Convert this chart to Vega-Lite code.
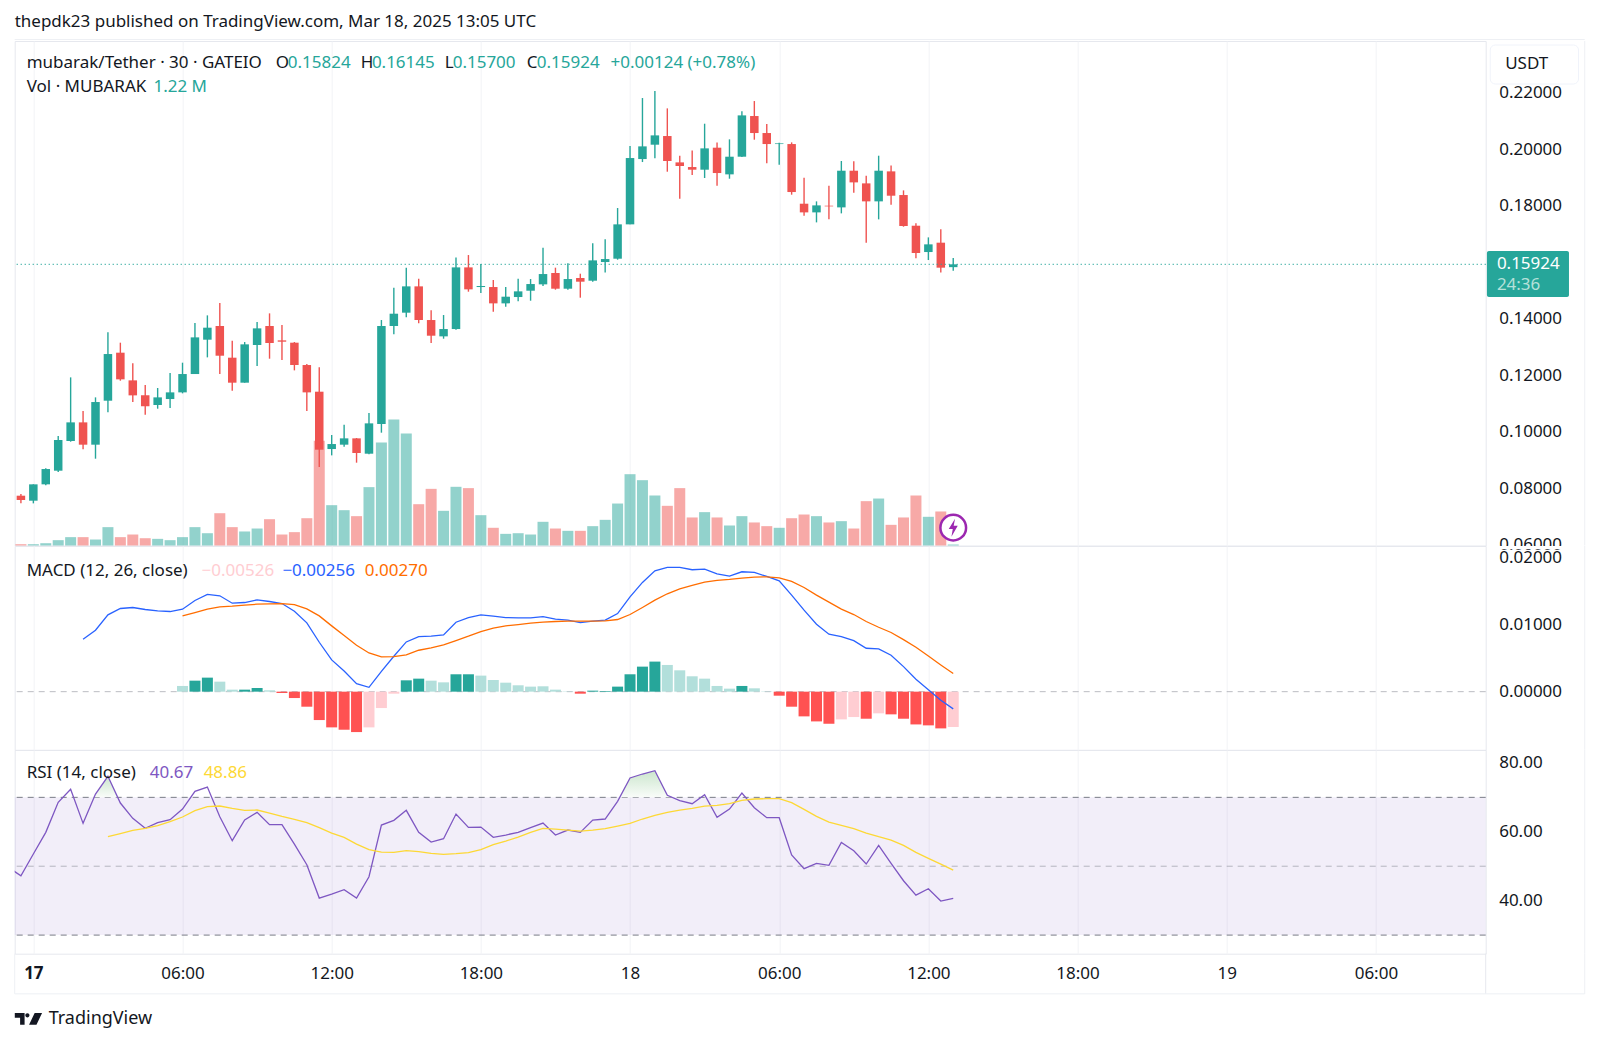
{
  "$schema": "https://vega.github.io/schema/vega-lite/v6.json",
  "background": "#ffffff",
  "padding": {"left": 12.7, "top": 12, "right": 0, "bottom": 0},
  "bounds": "flush",
  "spacing": 0,
  "data": {"values": [{}]},
  "config": {
    "view": {"stroke": "#e6e8ee"},
    "axis": {"gridColor": "#f2f3f6", "domain": false, "ticks": false, "labelFont": "Noto Sans", "labelFontSize": 17, "labelColor": "#131722", "labelPadding": 13},
    "text": {"font": "Noto Sans", "fontSize": 17, "align": "left", "baseline": "middle", "color": "#131722"}
  },
  "datasets": {
    "bars": [
      {"t":"2025-03-16T23:00:00Z","rsi":49.66},
      {"t":"2025-03-16T23:30:00Z","o":0.07733,"h":0.07792,"l":0.07462,"c":0.0758,"vol":1.6,"rsi":47.24},
      {"t":"2025-03-17T00:00:00Z","o":0.07556,"h":0.08135,"l":0.07462,"c":0.08135,"vol":1.6,"rsi":53.54},
      {"t":"2025-03-17T00:30:00Z","o":0.08135,"h":0.08701,"l":0.08099,"c":0.08677,"vol":2.8,"rsi":59.83},
      {"t":"2025-03-17T01:00:00Z","o":0.08618,"h":0.09846,"l":0.08571,"c":0.09704,"vol":6.5,"rsi":68.55},
      {"t":"2025-03-17T01:30:00Z","o":0.09669,"h":0.11922,"l":0.09645,"c":0.10329,"vol":10.2,"rsi":72.33},
      {"t":"2025-03-17T02:00:00Z","o":0.10329,"h":0.10731,"l":0.09374,"c":0.09539,"vol":10.2,"macd":0.00781,"rsi":62.45},
      {"t":"2025-03-17T02:30:00Z","o":0.09539,"h":0.11214,"l":0.09043,"c":0.11049,"vol":7.3,"macd":0.00915,"rsi":70.97},
      {"t":"2025-03-17T03:00:00Z","o":0.11096,"h":0.13515,"l":0.10684,"c":0.12748,"vol":22.4,"macd":0.01144,"rsi":76.1,"rsima":58.57},
      {"t":"2025-03-17T03:30:00Z","o":0.12796,"h":0.1315,"l":0.11804,"c":0.11852,"vol":10.2,"macd":0.01239,"rsi":68.35,"rsima":59.45},
      {"t":"2025-03-17T04:00:00Z","o":0.11816,"h":0.12418,"l":0.11049,"c":0.11285,"vol":13.4,"macd":0.01254,"rsi":63.9,"rsima":60.41},
      {"t":"2025-03-17T04:30:00Z","o":0.11285,"h":0.11651,"l":0.10601,"c":0.10896,"vol":8.9,"macd":0.01224,"rsi":61.0,"rsima":61.0},
      {"t":"2025-03-17T05:00:00Z","o":0.10943,"h":0.11545,"l":0.10813,"c":0.11214,"vol":8.1,"macd":0.01204,"rsi":62.64,"rsima":61.77},
      {"t":"2025-03-17T05:30:00Z","o":0.11155,"h":0.12076,"l":0.10837,"c":0.11391,"vol":6.5,"macd":0.01194,"rsi":63.51,"rsima":62.93},
      {"t":"2025-03-17T06:00:00Z","o":0.11391,"h":0.12442,"l":0.11356,"c":0.1204,"vol":10.2,"hist":0.00085,"phase":"gl","macd":0.01229,"signal":0.01129,"rsi":66.61,"rsima":64.29},
      {"t":"2025-03-17T06:30:00Z","o":0.1204,"h":0.13846,"l":0.1204,"c":0.13338,"vol":22.4,"hist":0.00164,"phase":"gd","macd":0.01358,"signal":0.01179,"rsi":71.74,"rsima":66.13},
      {"t":"2025-03-17T07:00:00Z","o":0.13256,"h":0.14117,"l":0.1263,"c":0.13681,"vol":15,"hist":0.00209,"phase":"gd","macd":0.01448,"signal":0.01229,"rsi":73.0,"rsima":67.29},
      {"t":"2025-03-17T07:30:00Z","o":0.1374,"h":0.14554,"l":0.1204,"c":0.12689,"vol":39.4,"hist":0.00149,"phase":"gl","macd":0.01428,"signal":0.01264,"rsi":64.38,"rsima":67.48},
      {"t":"2025-03-17T08:00:00Z","o":0.12619,"h":0.1322,"l":0.1145,"c":0.11734,"vol":22.4,"hist":0.0003,"phase":"gl","macd":0.01318,"signal":0.01274,"rsi":57.41,"rsima":66.81},
      {"t":"2025-03-17T08:30:00Z","o":0.11734,"h":0.13173,"l":0.11734,"c":0.13091,"vol":17.1,"hist":0.0003,"phase":"gd","macd":0.01328,"signal":0.01289,"rsi":63.42,"rsima":66.23},
      {"t":"2025-03-17T09:00:00Z","o":0.13067,"h":0.13881,"l":0.12324,"c":0.13657,"vol":20.7,"hist":0.00055,"phase":"gd","macd":0.01368,"signal":0.01303,"rsi":65.64,"rsima":66.32},
      {"t":"2025-03-17T09:30:00Z","o":0.1374,"h":0.14188,"l":0.12583,"c":0.13138,"vol":32.1,"hist":0.0002,"phase":"gl","macd":0.01343,"signal":0.01308,"rsi":62.06,"rsima":65.45},
      {"t":"2025-03-17T10:00:00Z","o":0.13232,"h":0.13775,"l":0.12536,"c":0.13185,"vol":13.4,"hist":-0.0002,"phase":"rd","macd":0.01313,"signal":0.01313,"rsi":62.06,"rsima":64.48},
      {"t":"2025-03-17T10:30:00Z","o":0.1315,"h":0.13173,"l":0.1217,"c":0.12359,"vol":16.3,"hist":-0.00095,"phase":"rd","macd":0.01199,"signal":0.01298,"rsi":56.44,"rsima":63.61},
      {"t":"2025-03-17T11:00:00Z","o":0.12359,"h":0.12394,"l":0.10731,"c":0.11391,"vol":33.3,"hist":-0.00224,"phase":"rd","macd":0.01025,"signal":0.01234,"rsi":50.44,"rsima":62.64},
      {"t":"2025-03-17T11:30:00Z","o":0.11415,"h":0.12276,"l":0.08748,"c":0.09362,"vol":127.7,"hist":-0.00423,"phase":"rd","macd":0.00736,"signal":0.01129,"rsi":40.75,"rsima":61.19},
      {"t":"2025-03-17T12:00:00Z","o":0.09385,"h":0.09881,"l":0.09161,"c":0.09562,"vol":49.2,"hist":-0.00532,"phase":"rd","macd":0.00473,"signal":0.0098,"rsi":41.91,"rsima":59.64},
      {"t":"2025-03-17T12:30:00Z","o":0.09539,"h":0.10247,"l":0.09468,"c":0.09763,"vol":43.1,"hist":-0.00567,"phase":"rd","macd":0.00308,"signal":0.00836,"rsi":43.17,"rsima":58.38},
      {"t":"2025-03-17T13:00:00Z","o":0.09763,"h":0.09775,"l":0.08902,"c":0.09244,"vol":35.8,"hist":-0.00602,"phase":"rd","macd":0.00119,"signal":0.00692,"rsi":40.75,"rsima":56.44},
      {"t":"2025-03-17T13:30:00Z","o":0.0922,"h":0.1066,"l":0.09197,"c":0.10294,"vol":71.2,"hist":-0.00532,"phase":"rl","macd":0.00065,"signal":0.00577,"rsi":46.95,"rsima":54.8},
      {"t":"2025-03-17T14:00:00Z","o":0.1027,"h":0.13952,"l":0.09964,"c":0.1374,"vol":125.7,"hist":-0.00244,"phase":"rl","macd":0.00303,"signal":0.00517,"rsi":61.96,"rsima":54.12},
      {"t":"2025-03-17T14:30:00Z","o":0.1374,"h":0.15097,"l":0.13445,"c":0.14176,"vol":153.7,"hist":-0.0003,"phase":"rl","macd":0.00527,"signal":0.00522,"rsi":63.32,"rsima":54.02},
      {"t":"2025-03-17T15:00:00Z","o":0.14212,"h":0.15805,"l":0.14046,"c":0.15144,"vol":136.7,"hist":0.00169,"phase":"gd","macd":0.00741,"signal":0.00547,"rsi":66.23,"rsima":54.51},
      {"t":"2025-03-17T15:30:00Z","o":0.15144,"h":0.15415,"l":0.13834,"c":0.13952,"vol":50.4,"hist":0.00194,"phase":"gd","macd":0.00821,"signal":0.00617,"rsi":59.83,"rsima":54.22},
      {"t":"2025-03-17T16:00:00Z","o":0.13952,"h":0.14294,"l":0.13138,"c":0.13397,"vol":69.1,"hist":0.00164,"phase":"gl","macd":0.00826,"signal":0.00652,"rsi":57.02,"rsima":53.73},
      {"t":"2025-03-17T16:30:00Z","o":0.13374,"h":0.14129,"l":0.13291,"c":0.13633,"vol":42.3,"hist":0.00139,"phase":"gl","macd":0.00846,"signal":0.00697,"rsi":57.99,"rsima":53.44},
      {"t":"2025-03-17T17:00:00Z","o":0.13633,"h":0.1617,"l":0.1361,"c":0.15816,"vol":71.6,"hist":0.00259,"phase":"gd","macd":0.01035,"signal":0.00761,"rsi":65.16,"rsima":53.63},
      {"t":"2025-03-17T17:30:00Z","o":0.15816,"h":0.16253,"l":0.14955,"c":0.15038,"vol":70,"hist":0.00259,"phase":"gd","macd":0.01104,"signal":0.00826,"rsi":61.28,"rsima":53.92},
      {"t":"2025-03-17T18:00:00Z","o":0.1512,"h":0.15934,"l":0.14908,"c":0.15156,"vol":37,"hist":0.00239,"phase":"gl","macd":0.01144,"signal":0.00896,"rsi":61.38,"rsima":54.8},
      {"t":"2025-03-17T18:30:00Z","o":0.1512,"h":0.15368,"l":0.14247,"c":0.14542,"vol":21.6,"hist":0.00174,"phase":"gl","macd":0.01124,"signal":0.00945,"rsi":58.38,"rsima":56.25},
      {"t":"2025-03-17T19:00:00Z","o":0.14542,"h":0.1512,"l":0.14424,"c":0.14778,"vol":14.2,"hist":0.00134,"phase":"gl","macd":0.01104,"signal":0.0098,"rsi":59.06,"rsima":57.31},
      {"t":"2025-03-17T19:30:00Z","o":0.14766,"h":0.15415,"l":0.14613,"c":0.14967,"vol":15,"hist":0.00095,"phase":"gl","macd":0.01099,"signal":0.01,"rsi":59.83,"rsima":58.48},
      {"t":"2025-03-17T20:00:00Z","o":0.1499,"h":0.15403,"l":0.14636,"c":0.15226,"vol":13.4,"hist":0.00075,"phase":"gl","macd":0.01099,"signal":0.0102,"rsi":61.19,"rsima":59.83},
      {"t":"2025-03-17T20:30:00Z","o":0.15215,"h":0.16513,"l":0.15156,"c":0.1558,"vol":28.9,"hist":0.0008,"phase":"gl","macd":0.01119,"signal":0.01035,"rsi":62.54,"rsima":61.0},
      {"t":"2025-03-17T21:00:00Z","o":0.15616,"h":0.15805,"l":0.15026,"c":0.15061,"vol":20.7,"hist":0.0003,"phase":"gl","macd":0.0108,"signal":0.01045,"rsi":59.06,"rsima":60.8},
      {"t":"2025-03-17T21:30:00Z","o":0.15061,"h":0.15958,"l":0.15026,"c":0.15403,"vol":17.9,"hist":0.00005,"phase":"gl","macd":0.01065,"signal":0.0105,"rsi":60.51,"rsima":60.51},
      {"t":"2025-03-17T22:00:00Z","o":0.15439,"h":0.15592,"l":0.14743,"c":0.15309,"vol":17.9,"hist":-0.0003,"phase":"rd","macd":0.0103,"signal":0.0105,"rsi":59.83,"rsima":60.22},
      {"t":"2025-03-17T22:30:00Z","o":0.15344,"h":0.16666,"l":0.15309,"c":0.16064,"vol":23.6,"hist":0.00015,"phase":"gd","macd":0.0105,"signal":0.0105,"rsi":63.42,"rsima":60.51},
      {"t":"2025-03-17T23:00:00Z","o":0.16005,"h":0.16808,"l":0.15639,"c":0.16111,"vol":31.3,"hist":0.0001,"phase":"gd","macd":0.01065,"signal":0.01055,"rsi":63.71,"rsima":60.9},
      {"t":"2025-03-17T23:30:00Z","o":0.16123,"h":0.17917,"l":0.16088,"c":0.17339,"vol":51.2,"hist":0.00075,"phase":"gd","macd":0.01164,"signal":0.01075,"rsi":68.84,"rsima":61.67},
      {"t":"2025-03-18T00:00:00Z","o":0.17339,"h":0.20112,"l":0.17339,"c":0.19687,"vol":87,"hist":0.00259,"phase":"gd","macd":0.01413,"signal":0.01149,"rsi":75.62,"rsima":62.45},
      {"t":"2025-03-18T00:30:00Z","o":0.19651,"h":0.21811,"l":0.19545,"c":0.201,"vol":79.7,"hist":0.00373,"phase":"gd","macd":0.01627,"signal":0.01254,"rsi":76.78,"rsima":63.71},
      {"t":"2025-03-18T01:00:00Z","o":0.20159,"h":0.22059,"l":0.19675,"c":0.20489,"vol":61,"hist":0.00448,"phase":"gd","macd":0.01801,"signal":0.01363,"rsi":77.75,"rsima":64.77},
      {"t":"2025-03-18T01:30:00Z","o":0.20466,"h":0.21445,"l":0.19203,"c":0.19581,"vol":48.4,"hist":0.00398,"phase":"gl","macd":0.01851,"signal":0.01458,"rsi":70.58,"rsima":65.64},
      {"t":"2025-03-18T02:00:00Z","o":0.19533,"h":0.19769,"l":0.18247,"c":0.19404,"vol":70,"hist":0.00318,"phase":"gl","macd":0.01851,"signal":0.01532,"rsi":69.03,"rsima":66.32},
      {"t":"2025-03-18T02:30:00Z","o":0.19368,"h":0.19958,"l":0.19085,"c":0.19274,"vol":34.2,"hist":0.00229,"phase":"gl","macd":0.01816,"signal":0.01582,"rsi":68.16,"rsima":66.81},
      {"t":"2025-03-18T03:00:00Z","o":0.19274,"h":0.20902,"l":0.18979,"c":0.20029,"vol":40.7,"hist":0.00194,"phase":"gl","macd":0.01826,"signal":0.01632,"rsi":70.78,"rsima":67.48},
      {"t":"2025-03-18T03:30:00Z","o":0.20053,"h":0.20241,"l":0.18707,"c":0.19156,"vol":34.2,"hist":0.00085,"phase":"gl","macd":0.01756,"signal":0.01657,"rsi":64.19,"rsima":67.68},
      {"t":"2025-03-18T04:00:00Z","o":0.19109,"h":0.20348,"l":0.18955,"c":0.19734,"vol":24.4,"hist":0.00045,"phase":"gl","macd":0.01721,"signal":0.01672,"rsi":66.61,"rsima":68.16},
      {"t":"2025-03-18T04:30:00Z","o":0.19734,"h":0.21339,"l":0.19722,"c":0.21197,"vol":35.8,"hist":0.00085,"phase":"gd","macd":0.01786,"signal":0.01692,"rsi":71.26,"rsima":69.13},
      {"t":"2025-03-18T05:00:00Z","o":0.21174,"h":0.21705,"l":0.20336,"c":0.20572,"vol":28.1,"hist":0.0005,"phase":"gl","macd":0.01776,"signal":0.01706,"rsi":67.0,"rsima":69.52},
      {"t":"2025-03-18T05:30:00Z","o":0.20572,"h":0.2089,"l":0.19498,"c":0.20182,"vol":23.6,"hist":0.00005,"phase":"gl","macd":0.01716,"signal":0.01711,"rsi":64.09,"rsima":69.61},
      {"t":"2025-03-18T06:00:00Z","o":0.20182,"h":0.2023,"l":0.19451,"c":0.20206,"vol":21.6,"hist":-0.0006,"phase":"rd","macd":0.01652,"signal":0.01696,"rsi":64.09,"rsima":69.61},
      {"t":"2025-03-18T06:30:00Z","o":0.20182,"h":0.20241,"l":0.18389,"c":0.18483,"vol":33.3,"hist":-0.00224,"phase":"rd","macd":0.01438,"signal":0.01642,"rsi":53.25,"rsima":68.45},
      {"t":"2025-03-18T07:00:00Z","o":0.1807,"h":0.18991,"l":0.17645,"c":0.17763,"vol":37.8,"hist":-0.00368,"phase":"rd","macd":0.01214,"signal":0.01552,"rsi":49.28,"rsima":66.51},
      {"t":"2025-03-18T07:30:00Z","o":0.17763,"h":0.18153,"l":0.17409,"c":0.18011,"vol":35.8,"hist":-0.00443,"phase":"rd","macd":0.01005,"signal":0.01438,"rsi":50.82,"rsima":64.48},
      {"t":"2025-03-18T08:00:00Z","o":0.17999,"h":0.18707,"l":0.17516,"c":0.17976,"vol":28.1,"hist":-0.00478,"phase":"rd","macd":0.00856,"signal":0.01333,"rsi":50.24,"rsima":62.83},
      {"t":"2025-03-18T08:30:00Z","o":0.1794,"h":0.19581,"l":0.17728,"c":0.19238,"vol":29.7,"hist":-0.00413,"phase":"rl","macd":0.00821,"signal":0.01229,"rsi":56.93,"rsima":61.86},
      {"t":"2025-03-18T09:00:00Z","o":0.19238,"h":0.19569,"l":0.1846,"c":0.18825,"vol":20.7,"hist":-0.00378,"phase":"rl","macd":0.00761,"signal":0.01149,"rsi":54.51,"rsima":60.9},
      {"t":"2025-03-18T09:30:00Z","o":0.1879,"h":0.19061,"l":0.1669,"c":0.18153,"vol":54.1,"hist":-0.00403,"phase":"rd","macd":0.00647,"signal":0.01045,"rsi":50.63,"rsima":59.64},
      {"t":"2025-03-18T10:00:00Z","o":0.18153,"h":0.19769,"l":0.17516,"c":0.19238,"vol":57.3,"hist":-0.00323,"phase":"rl","macd":0.00637,"signal":0.0096,"rsi":56.05,"rsima":58.57},
      {"t":"2025-03-18T10:30:00Z","o":0.19215,"h":0.19427,"l":0.18035,"c":0.18353,"vol":25.2,"hist":-0.00338,"phase":"rd","macd":0.00542,"signal":0.00881,"rsi":50.82,"rsima":57.6},
      {"t":"2025-03-18T11:00:00Z","o":0.18377,"h":0.18542,"l":0.17256,"c":0.1728,"vol":34.2,"hist":-0.00403,"phase":"rd","macd":0.00373,"signal":0.00776,"rsi":45.79,"rsima":56.05},
      {"t":"2025-03-18T11:30:00Z","o":0.17291,"h":0.17374,"l":0.16135,"c":0.16324,"vol":61,"hist":-0.00488,"phase":"rd","macd":0.00184,"signal":0.00662,"rsi":41.62,"rsima":54.02},
      {"t":"2025-03-18T12:00:00Z","o":0.16359,"h":0.16878,"l":0.16076,"c":0.16631,"vol":35,"hist":-0.00502,"phase":"rd","macd":0.0003,"signal":0.00532,"rsi":43.47,"rsima":52.28},
      {"t":"2025-03-18T12:30:00Z","o":0.1669,"h":0.17162,"l":0.15639,"c":0.15805,"vol":41.5,"hist":-0.00547,"phase":"rd","macd":-0.00129,"signal":0.00398,"rsi":39.88,"rsima":50.63},
      {"t":"2025-03-18T13:00:00Z","o":0.15824,"h":0.16145,"l":0.157,"c":0.15924,"vol":1.22,"hist":-0.00526,"phase":"rl","macd":-0.00256,"signal":0.0027,"rsi":40.67,"rsima":48.86}
    ],
    "overbought": [
      {"seg":"a","t":"2025-03-17T02:27:00Z","rsi":70},
      {"seg":"a","t":"2025-03-17T02:30:00Z","rsi":70.97},
      {"seg":"a","t":"2025-03-17T03:00:00Z","rsi":76.1},
      {"seg":"a","t":"2025-03-17T03:24:00Z","rsi":70},
      {"seg":"b","t":"2025-03-17T23:35:00Z","rsi":70},
      {"seg":"b","t":"2025-03-18T00:00:00Z","rsi":75.62},
      {"seg":"b","t":"2025-03-18T00:30:00Z","rsi":76.78},
      {"seg":"b","t":"2025-03-18T01:00:00Z","rsi":77.75},
      {"seg":"b","t":"2025-03-18T01:30:00Z","rsi":70.58},
      {"seg":"b","t":"2025-03-18T01:41:00Z","rsi":70}
    ]
  },
  "vconcat": [
    {
      "width": 1471,
      "height": 504.5,
      "layer": [
        {
          "data": {"name": "bars"},
          "mark": {"type": "bar", "size": 11, "opacity": 0.5},
          "encoding": {
            "x": {"field": "t", "type": "temporal", "title": null, "scale": {"type": "utc", "padding": 0, "nice": false, "domain": ["2025-03-16T23:15:00Z", "2025-03-19T10:25:00Z"]},
              "axis": {"values": ["2025-03-17T00:00:00Z","2025-03-17T06:00:00Z","2025-03-17T12:00:00Z","2025-03-17T18:00:00Z","2025-03-18T00:00:00Z","2025-03-18T06:00:00Z","2025-03-18T12:00:00Z","2025-03-18T18:00:00Z","2025-03-19T00:00:00Z","2025-03-19T06:00:00Z"], "labels": false}},
            "y": {"field": "vol", "type": "quantitative", "axis": null, "scale": {"domain": [0, 615.5], "nice": false}},
            "color": {"condition": {"test": "datum.c >= datum.o", "value": "#26a69a"}, "value": "#ef5350"}
          }
        },
        {
          "layer": [
            {
              "data": {"name": "bars"},
              "mark": {"type": "rule", "strokeWidth": 1.4},
              "encoding": {
                "x": {"field": "t", "type": "temporal", "title": null},
                "y": {"field": "l", "type": "quantitative", "title": null, "scale": {"domain": [0.0597, 0.2383], "nice": false, "zero": false},
                  "axis": {"orient": "right", "values": [0.06,0.08,0.1,0.12,0.14,0.16,0.18,0.2,0.22], "labelExpr": "abs(datum.value - 0.16) < 0.001 ? '' : format(datum.value, '.5f')", "title": null}},
                "y2": {"field": "h"},
                "color": {"condition": {"test": "datum.c >= datum.o", "value": "#26a69a"}, "value": "#ef5350"}
              }
            },
            {
              "data": {"name": "bars"},
              "mark": {"type": "bar", "size": 8.5},
              "encoding": {
                "x": {"field": "t", "type": "temporal", "title": null},
                "y": {"field": "o", "type": "quantitative", "title": null},
                "y2": {"field": "c"},
                "color": {"condition": {"test": "datum.c >= datum.o", "value": "#26a69a"}, "value": "#ef5350"}
              }
            },
            {"mark": {"type": "rule", "color": "#26a69a", "strokeDash": [1, 3], "strokeWidth": 1.3}, "encoding": {"y": {"datum": 0.15924}}},
            {"mark": {"type": "rule", "color": "#eef0f4"}, "encoding": {"x": {"datum": {"year": 2025, "month": 3, "date": 19, "hours": 14, "minutes": 24, "utc": true}, "type": "temporal"}}},
            {"mark": {"type": "rule", "color": "#eef0f4"}, "encoding": {"x": {"datum": {"year": 2025, "month": 3, "date": 16, "hours": 23, "minutes": 15, "utc": true}, "type": "temporal"}, "x2": {"datum": {"year": 2025, "month": 3, "date": 19, "hours": 14, "minutes": 24, "utc": true}}, "y": {"datum": 0.23883}}},
            {"mark": {"type": "rect", "fill": "#ffffff", "stroke": "#f0f3fa", "cornerRadius": 5}, "encoding": {"x": {"datum": {"year": 2025, "month": 3, "date": 19, "hours": 10, "minutes": 36, "utc": true}, "type": "temporal"}, "x2": {"datum": {"year": 2025, "month": 3, "date": 19, "hours": 14, "minutes": 9, "utc": true}}, "y": {"datum": 0.23689}, "y2": {"datum": 0.22308}}},
            {"mark": {"type": "rect", "fill": "#26a69a", "cornerRadius": 2}, "encoding": {"x": {"datum": {"year": 2025, "month": 3, "date": 19, "hours": 10, "minutes": 28, "utc": true}, "type": "temporal"}, "x2": {"datum": {"year": 2025, "month": 3, "date": 19, "hours": 13, "minutes": 46, "utc": true}}, "y": {"datum": 0.16396}, "y2": {"datum": 0.14768}}},
            {"mark": {"type": "text", "color": "#ffffff"}, "encoding": {"x": {"datum": {"year": 2025, "month": 3, "date": 19, "hours": 10, "minutes": 52, "utc": true}, "type": "temporal"}, "y": {"datum": 0.15924}, "text": {"value": "0.15924"}}},
            {"mark": {"type": "text", "color": "#b5e0d9"}, "encoding": {"x": {"datum": {"year": 2025, "month": 3, "date": 19, "hours": 10, "minutes": 52, "utc": true}, "type": "temporal"}, "y": {"datum": 0.15193}, "text": {"value": "24:36"}}},
            {"mark": {"type": "text"}, "encoding": {"x": {"datum": {"year": 2025, "month": 3, "date": 19, "hours": 11, "minutes": 12, "utc": true}, "type": "temporal"}, "y": {"datum": 0.23, "type": "quantitative"}, "text": {"value": "USDT"}}},
            {"mark": {"type": "text"}, "encoding": {"x": {"datum": {"year": 2025, "month": 3, "date": 16, "hours": 23, "minutes": 15, "utc": true}, "type": "temporal"}, "y": {"datum": 0.24503}, "text": {"value": "thepdk23 published on TradingView.com, Mar 18, 2025 13:05 UTC"}}},
            {"mark": {"type": "text"}, "encoding": {"x": {"datum": {"year": 2025, "month": 3, "date": 16, "hours": 23, "minutes": 44, "utc": true}, "type": "temporal"}, "y": {"datum": 0.23062}, "text": {"value": "mubarak/Tether · 30 · GATEIO"}}},
            {"mark": {"type": "text"}, "encoding": {"x": {"datum": {"year": 2025, "month": 3, "date": 17, "hours": 9, "minutes": 45, "utc": true}, "type": "temporal"}, "y": {"datum": 0.23062}, "text": {"value": "O"}}},
            {"mark": {"type": "text", "color": "#26a69a"}, "encoding": {"x": {"datum": {"year": 2025, "month": 3, "date": 17, "hours": 10, "minutes": 14, "utc": true}, "type": "temporal"}, "y": {"datum": 0.23062}, "text": {"value": "0.15824"}}},
            {"mark": {"type": "text"}, "encoding": {"x": {"datum": {"year": 2025, "month": 3, "date": 17, "hours": 13, "minutes": 10, "utc": true}, "type": "temporal"}, "y": {"datum": 0.23062}, "text": {"value": "H"}}},
            {"mark": {"type": "text", "color": "#26a69a"}, "encoding": {"x": {"datum": {"year": 2025, "month": 3, "date": 17, "hours": 13, "minutes": 37, "utc": true}, "type": "temporal"}, "y": {"datum": 0.23062}, "text": {"value": "0.16145"}}},
            {"mark": {"type": "text"}, "encoding": {"x": {"datum": {"year": 2025, "month": 3, "date": 17, "hours": 16, "minutes": 33, "utc": true}, "type": "temporal"}, "y": {"datum": 0.23062}, "text": {"value": "L"}}},
            {"mark": {"type": "text", "color": "#26a69a"}, "encoding": {"x": {"datum": {"year": 2025, "month": 3, "date": 17, "hours": 16, "minutes": 52, "utc": true}, "type": "temporal"}, "y": {"datum": 0.23062}, "text": {"value": "0.15700"}}},
            {"mark": {"type": "text"}, "encoding": {"x": {"datum": {"year": 2025, "month": 3, "date": 17, "hours": 19, "minutes": 51, "utc": true}, "type": "temporal"}, "y": {"datum": 0.23062}, "text": {"value": "C"}}},
            {"mark": {"type": "text", "color": "#26a69a"}, "encoding": {"x": {"datum": {"year": 2025, "month": 3, "date": 17, "hours": 20, "minutes": 15, "utc": true}, "type": "temporal"}, "y": {"datum": 0.23062}, "text": {"value": "0.15924"}}},
            {"mark": {"type": "text", "color": "#26a69a"}, "encoding": {"x": {"datum": {"year": 2025, "month": 3, "date": 17, "hours": 23, "minutes": 13, "utc": true}, "type": "temporal"}, "y": {"datum": 0.23062}, "text": {"value": "+0.00124 (+0.78%)"}}},
            {"mark": {"type": "text"}, "encoding": {"x": {"datum": {"year": 2025, "month": 3, "date": 16, "hours": 23, "minutes": 44, "utc": true}, "type": "temporal"}, "y": {"datum": 0.22184}, "text": {"value": "Vol · MUBARAK"}}},
            {"mark": {"type": "text", "color": "#26a69a"}, "encoding": {"x": {"datum": {"year": 2025, "month": 3, "date": 17, "hours": 4, "minutes": 50, "utc": true}, "type": "temporal"}, "y": {"datum": 0.22184}, "text": {"value": "1.22 M"}}},
            {"mark": {"type": "point", "shape": "circle", "filled": true, "fill": "#ffffff", "stroke": "#9c27b0", "strokeWidth": 2.5, "size": 660, "opacity": 1}, "encoding": {"x": {"datum": {"year": 2025, "month": 3, "date": 18, "hours": 13, "utc": true}, "type": "temporal"}, "y": {"datum": 0.06602}}},
            {"mark": {"type": "point", "shape": "M0.2,-1 L-0.5,0.15 L-0.05,0.15 L-0.2,1 L0.5,-0.2 L0.05,-0.2 Z", "filled": true, "fill": "#9c27b0", "size": 324, "opacity": 1}, "encoding": {"x": {"datum": {"year": 2025, "month": 3, "date": 18, "hours": 13, "utc": true}, "type": "temporal"}, "y": {"datum": 0.06602}}}
          ]
        }
      ],
      "resolve": {"scale": {"y": "independent"}, "axis": {"y": "independent"}}
    },
    {
      "width": 1471,
      "height": 203.8,
      "layer": [
        {"mark": {"type": "rule", "color": "#787b86", "opacity": 0.5, "strokeDash": [6, 5]},
          "encoding": {"y": {"datum": 0, "type": "quantitative", "title": null, "scale": {"domain": [-0.00866, 0.0217], "nice": false, "zero": false}, "axis": {"orient": "right", "values": [0, 0.01, 0.02], "format": ".5f", "title": null}}}},
        {
          "data": {"name": "bars"},
          "mark": {"type": "bar", "size": 11},
          "encoding": {
            "x": {"field": "t", "type": "temporal", "title": null, "scale": {"type": "utc", "padding": 0, "nice": false, "domain": ["2025-03-16T23:15:00Z", "2025-03-19T10:25:00Z"]},
              "axis": {"values": ["2025-03-17T00:00:00Z","2025-03-17T06:00:00Z","2025-03-17T12:00:00Z","2025-03-17T18:00:00Z","2025-03-18T00:00:00Z","2025-03-18T06:00:00Z","2025-03-18T12:00:00Z","2025-03-18T18:00:00Z","2025-03-19T00:00:00Z","2025-03-19T06:00:00Z"], "labels": false}},
            "y": {"field": "hist", "type": "quantitative", "title": null},
            "y2": {"datum": 0},
            "color": {"field": "phase", "type": "nominal", "legend": null, "scale": {"domain": ["gd", "gl", "rd", "rl"], "range": ["#26a69a", "#b2dfdb", "#ff5252", "#ffcdd2"]}}
          }
        },
        {
          "data": {"name": "bars"},
          "mark": {"type": "line", "color": "#2962ff", "strokeWidth": 1.3},
          "encoding": {"x": {"field": "t", "type": "temporal", "title": null}, "y": {"field": "macd", "type": "quantitative", "title": null}}
        },
        {
          "data": {"name": "bars"},
          "mark": {"type": "line", "color": "#ff6d00", "strokeWidth": 1.3},
          "encoding": {"x": {"field": "t", "type": "temporal", "title": null}, "y": {"field": "signal", "type": "quantitative", "title": null}}
        },
        {"mark": {"type": "rule", "color": "#eef0f4"}, "encoding": {"x": {"datum": {"year": 2025, "month": 3, "date": 19, "hours": 14, "minutes": 24, "utc": true}, "type": "temporal"}}},
        {"mark": {"type": "rect", "fill": "#ffffff"}, "encoding": {"x": {"datum": {"year": 2025, "month": 3, "date": 19, "hours": 10, "minutes": 30, "utc": true}, "type": "temporal"}, "x2": {"datum": {"year": 2025, "month": 3, "date": 19, "hours": 14, "minutes": 10, "utc": true}}, "y": {"datum": 0.0217}, "y2": {"datum": 0.0212}}},
        {"mark": {"type": "text"}, "encoding": {"x": {"datum": {"year": 2025, "month": 3, "date": 16, "hours": 23, "minutes": 44, "utc": true}, "type": "temporal"}, "y": {"datum": 0.018}, "text": {"value": "MACD (12, 26, close)"}}},
        {"mark": {"type": "text", "color": "#ffcdd2"}, "encoding": {"x": {"datum": {"year": 2025, "month": 3, "date": 17, "hours": 6, "minutes": 46, "utc": true}, "type": "temporal"}, "y": {"datum": 0.018}, "text": {"value": "−0.00526"}}},
        {"mark": {"type": "text", "color": "#2962ff"}, "encoding": {"x": {"datum": {"year": 2025, "month": 3, "date": 17, "hours": 10, "minutes": 1, "utc": true}, "type": "temporal"}, "y": {"datum": 0.018}, "text": {"value": "−0.00256"}}},
        {"mark": {"type": "text", "color": "#ff6d00"}, "encoding": {"x": {"datum": {"year": 2025, "month": 3, "date": 17, "hours": 13, "minutes": 20, "utc": true}, "type": "temporal"}, "y": {"datum": 0.018}, "text": {"value": "0.00270"}}}
      ]
    },
    {
      "width": 1471,
      "height": 203.7,
      "layer": [
        {"mark": {"type": "rect", "color": "#7e57c2", "opacity": 0.1},
          "encoding": {"y": {"datum": 70, "type": "quantitative", "title": null, "scale": {"domain": [24.6, 83.75], "nice": false, "zero": false}, "axis": {"orient": "right", "values": [40, 60, 80], "format": ".2f", "title": null}}, "y2": {"datum": 30}}},
        {"mark": {"type": "rule", "color": "#787b86", "strokeDash": [6, 5]}, "encoding": {"y": {"datum": 70}}},
        {"mark": {"type": "rule", "color": "#787b86", "opacity": 0.5, "strokeDash": [6, 5]}, "encoding": {"y": {"datum": 50}}},
        {"mark": {"type": "rule", "color": "#787b86", "strokeDash": [6, 5]}, "encoding": {"y": {"datum": 30}}},
        {
          "data": {"name": "overbought"},
          "mark": {"type": "area", "color": {"gradient": "linear", "x1": 0, "y1": 0, "x2": 0, "y2": 1, "stops": [{"offset": 0, "color": "#cbe6cd"}, {"offset": 1, "color": "#f9fcf9"}]}},
          "encoding": {
            "x": {"field": "t", "type": "temporal", "title": null},
            "y": {"field": "rsi", "type": "quantitative", "title": null},
            "y2": {"datum": 70},
            "detail": {"field": "seg"}
          }
        },
        {
          "data": {"name": "bars"},
          "mark": {"type": "line", "color": "#7e57c2", "strokeWidth": 1.3, "clip": true},
          "encoding": {
            "x": {"field": "t", "type": "temporal", "title": null, "scale": {"type": "utc", "nice": false, "domain": ["2025-03-16T23:15:00Z", "2025-03-19T10:25:00Z"]},
              "axis": {"values": ["2025-03-17T00:00:00Z","2025-03-17T06:00:00Z","2025-03-17T12:00:00Z","2025-03-17T18:00:00Z","2025-03-18T00:00:00Z","2025-03-18T06:00:00Z","2025-03-18T12:00:00Z","2025-03-18T18:00:00Z","2025-03-19T00:00:00Z","2025-03-19T06:00:00Z"],
                "labelExpr": "utchours(datum.value) == 0 ? utcdate(datum.value) : utcFormat(datum.value, '%H:%M')",
                "labelFontWeight": {"condition": {"test": "utcdate(datum.value) == 17 && utchours(datum.value) == 0", "value": "bold"}, "value": "normal"},
                "labelFlush": false, "labelOverlap": false, "labelPadding": 12}},
            "y": {"field": "rsi", "type": "quantitative", "title": null}
          }
        },
        {
          "data": {"name": "bars"},
          "mark": {"type": "line", "color": "#fdd835", "strokeWidth": 1.3},
          "encoding": {"x": {"field": "t", "type": "temporal", "title": null}, "y": {"field": "rsima", "type": "quantitative", "title": null}}
        },
        {"mark": {"type": "rule", "color": "#eef0f4"}, "encoding": {"x": {"datum": {"year": 2025, "month": 3, "date": 19, "hours": 14, "minutes": 24, "utc": true}, "type": "temporal"}}},
        {"mark": {"type": "rule", "color": "#eef0f4"}, "encoding": {"x": {"datum": {"year": 2025, "month": 3, "date": 19, "hours": 14, "minutes": 24, "utc": true}, "type": "temporal"}, "y": {"datum": 24.6}, "y2": {"datum": 12.95}}},
        {"mark": {"type": "rule", "color": "#e6e8ee"}, "encoding": {"x": {"datum": {"year": 2025, "month": 3, "date": 19, "hours": 10, "minutes": 25, "utc": true}, "type": "temporal"}, "y": {"datum": 24.6}, "y2": {"datum": 12.95}}},
        {"mark": {"type": "rule", "color": "#eef0f4"}, "encoding": {"x": {"datum": {"year": 2025, "month": 3, "date": 16, "hours": 23, "minutes": 15, "utc": true}, "type": "temporal"}, "y": {"datum": 24.6}, "y2": {"datum": 12.95}}},
        {"mark": {"type": "rule", "color": "#eef0f4"}, "encoding": {"x": {"datum": {"year": 2025, "month": 3, "date": 16, "hours": 23, "minutes": 15, "utc": true}, "type": "temporal"}, "x2": {"datum": {"year": 2025, "month": 3, "date": 19, "hours": 14, "minutes": 24, "utc": true}}, "y": {"datum": 12.95}}},
        {"mark": {"type": "text"}, "encoding": {"x": {"datum": {"year": 2025, "month": 3, "date": 16, "hours": 23, "minutes": 44, "utc": true}, "type": "temporal"}, "y": {"datum": 76.97}, "text": {"value": "RSI (14, close)"}}},
        {"mark": {"type": "text", "color": "#7e57c2"}, "encoding": {"x": {"datum": {"year": 2025, "month": 3, "date": 17, "hours": 4, "minutes": 41, "utc": true}, "type": "temporal"}, "y": {"datum": 76.97}, "text": {"value": "40.67"}}},
        {"mark": {"type": "text", "color": "#fdd835"}, "encoding": {"x": {"datum": {"year": 2025, "month": 3, "date": 17, "hours": 6, "minutes": 51, "utc": true}, "type": "temporal"}, "y": {"datum": 76.97}, "text": {"value": "48.86"}}},
        {"mark": {"type": "point", "shape": "M-1,-0.42 L-0.3,-0.42 L-0.3,0.42 L-0.62,0.42 L-0.62,-0.08 L-1,-0.08 Z M-0.1,-0.4 A0.15,0.15 0 1 1 -0.1,-0.1 A0.15,0.15 0 1 1 -0.1,-0.4 Z M0.42,-0.42 L0.95,-0.42 L0.55,0.42 L0.02,0.42 Z", "filled": true, "fill": "#131722", "size": 784, "opacity": 1}, "encoding": {"x": {"datum": {"year": 2025, "month": 3, "date": 16, "hours": 23, "minutes": 49, "utc": true}, "type": "temporal"}, "y": {"datum": 5.69}}},
        {"mark": {"type": "text", "fontSize": 18}, "encoding": {"x": {"datum": {"year": 2025, "month": 3, "date": 17, "minutes": 37, "utc": true}, "type": "temporal"}, "y": {"datum": 5.69}, "text": {"value": "TradingView"}}}
      ]
    }
  ]
}
